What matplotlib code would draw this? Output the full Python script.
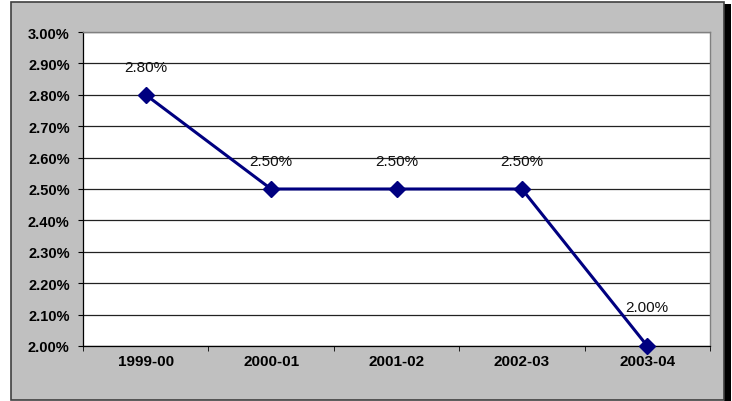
import matplotlib.pyplot as plt
from matplotlib.patches import Rectangle
from matplotlib.ticker import FuncFormatter, MultipleLocator

years = ['1999-00', '2000-01', '2001-02', '2002-03', '2003-04']
rates = [2.80, 2.50, 2.50, 2.50, 2.00]

plt.rcParams['font.family'] = ['Liberation Sans', 'DejaVu Sans']

fig = plt.figure(figsize=(7.32, 4.02), dpi=100)
W, H = 732, 402

# grey chart area with frame and a shadow on the right
fig.patches.append(Rectangle((724 / W, 0), 7 / W, 397 / H, transform=fig.transFigure,
                             facecolor='black', edgecolor='none', zorder=0))
fig.patches.append(Rectangle((10.5 / W, 1 / H), 713 / W, 398 / H, transform=fig.transFigure,
                             facecolor='#c0c0c0', edgecolor='#404040', linewidth=1.2, zorder=1))

ax = fig.add_axes([83 / W, 1 - 347 / H, 627 / W, 314 / H])
ax.set_zorder(2)
ax.set_facecolor('white')

x = list(range(len(years)))
ax.plot(x, rates, color='#000080', linewidth=2.2, marker='D', markersize=8.5, zorder=3, clip_on=False)

for xi, v in zip(x, rates):
    # label sitting on the bottom axis gets pushed up a bit more
    off = 25 if v <= ax.get_ylim()[0] or v == min(rates) else 17
    ax.annotate(f'{v:.2f}%', (xi, v), xytext=(0, off), textcoords='offset points',
                ha='center', va='baseline', fontsize=11, color='#111111')

ax.set_xlim(-0.5, len(years) - 0.5)
ax.set_ylim(2.0, 3.0)
ax.yaxis.set_major_locator(MultipleLocator(0.1))
ax.yaxis.set_major_formatter(FuncFormatter(lambda v, p: f'{v:.2f}%'))
ax.grid(axis='y', color='#222222', linewidth=0.9)
ax.set_axisbelow(True)

ax.set_xticks(x)
ax.set_xticklabels(years)
ax.set_xticks([i - 0.5 for i in range(len(years) + 1)], minor=True)
ax.tick_params(axis='x', which='major', length=0, pad=6)
ax.tick_params(axis='x', which='minor', length=3.6, direction='out', color='black')
ax.tick_params(axis='y', length=3.6, direction='out', color='black', pad=6)
for lab in ax.get_xticklabels():
    lab.set_fontweight('bold')
    lab.set_fontsize(11)
for lab in ax.get_yticklabels():
    lab.set_fontweight('bold')
    lab.set_fontsize(10.5)

for side in ['top', 'right']:
    ax.spines[side].set_color('#808080')
    ax.spines[side].set_linewidth(1.0)
for side in ['left', 'bottom']:
    ax.spines[side].set_color('black')
    ax.spines[side].set_linewidth(0.9)

fig.savefig('out.png', dpi=100)
